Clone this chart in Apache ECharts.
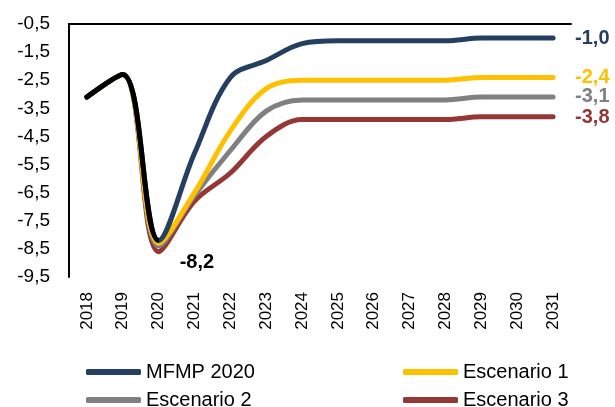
<!DOCTYPE html>
<html>
<head>
<meta charset="utf-8">
<script src="https://cdn.jsdelivr.net/npm/echarts@6/dist/echarts.min.js"></script>
<style>
  html, body { margin: 0; padding: 0; background: #fff; }
  #chart { width: 615px; height: 407px; }
</style>
</head>
<body>
<div id="chart"></div>
<script>
// Balance fiscal (% del PIB), 2018-2031
const years = ['2018', '2019', '2020', '2021', '2022', '2023', '2024',
               '2025', '2026', '2027', '2028', '2029', '2030', '2031'];

const historico = [-3.1, -2.3, -8.2, null, null, null, null, null, null, null, null, null, null, null];
const mfmp2020  = [-3.1, -2.3, -8.2, -5.1, -2.4, -1.8, -1.2, -1.1, -1.1, -1.1, -1.1, -1.0, -1.0, -1.0];
const escenario1 = [-3.1, -2.3, -8.3, -6.5, -4.3, -2.8, -2.5, -2.5, -2.5, -2.5, -2.5, -2.4, -2.4, -2.4];
const escenario2 = [-3.1, -2.3, -8.4, -6.6, -5.0, -3.6, -3.2, -3.2, -3.2, -3.2, -3.2, -3.1, -3.1, -3.1];
const escenario3 = [-3.1, -2.3, -8.6, -6.8, -5.8, -4.5, -3.9, -3.9, -3.9, -3.9, -3.9, -3.8, -3.8, -3.8];

const yTicks = [-9.5, -8.5, -7.5, -6.5, -5.5, -4.5, -3.5, -2.5, -1.5, -0.5];

const FONT = "'Liberation Sans', Arial, sans-serif";
const SMOOTH = 0.35;
const fmt = v => v.toFixed(1).replace('.', ',');

// last observed year of the historical series
const lastHist = historico.reduce((acc, v, i) => (v !== null ? i : acc), -1);

function lineSeries(name, data, color, labelOpts) {
  return {
    name: name,
    type: 'line',
    data: data,
    smooth: SMOOTH,
    symbol: 'none',
    lineStyle: { color: color, width: 5, cap: 'round', join: 'round' },
    itemStyle: { color: color },
    emphasis: { disabled: true },
    endLabel: Object.assign({
      show: true,
      formatter: p => fmt(p.value),
      color: color,
      fontFamily: FONT,
      fontSize: 20,
      fontWeight: 'bold',
      distance: 22
    }, labelOpts || {})
  };
}

// one legend entry per block, laid out as a 2x2 grid
function legendItem(name, left, top) {
  return {
    left: left,
    top: top,
    itemWidth: 55,
    itemHeight: 6,
    icon: 'roundRect',
    data: [name],
    padding: 0,
    textStyle: { color: '#000', fontSize: 20, fontFamily: FONT },
    selectedMode: false
  };
}

// The historical stretch shares its path with the projections; it is traced along the
// MFMP curve and painted black only up to the last observed year.
const historicoPath = mfmp2020.map((v, i) => {
  const val = historico[i] !== null ? historico[i] : v;
  if (i === lastHist) {
    return {
      value: val,
      label: {
        show: true,
        position: 'right',
        distance: 6,
        offset: [15, 22],
        formatter: p => fmt(p.value),
        color: '#000',
        fontFamily: FONT,
        fontSize: 20,
        fontWeight: 'bold'
      }
    };
  }
  return val;
});

const chart = echarts.init(document.getElementById('chart'), null, { renderer: 'canvas' });

chart.setOption({
  animation: false,
  backgroundColor: '#fff',
  textStyle: { fontFamily: FONT },
  grid: { left: 69, right: 44, top: 24, bottom: 130, containLabel: false },
  xAxis: [
    {
      type: 'category',
      data: years,
      position: 'bottom',
      boundaryGap: true,
      axisLine: { show: false },
      axisTick: { show: false },
      axisLabel: { rotate: 90, margin: 15, color: '#000', fontSize: 17, fontFamily: FONT },
      splitLine: { show: false }
    },
    {
      type: 'category',
      data: years,
      position: 'top',
      boundaryGap: true,
      axisLine: { show: true, lineStyle: { color: '#000', width: 2 } },
      axisTick: { show: false },
      axisLabel: { show: false },
      splitLine: { show: false }
    }
  ],
  yAxis: {
    type: 'value',
    min: yTicks[0],
    max: yTicks[yTicks.length - 1],
    interval: 0.5,
    axisLine: { show: true, lineStyle: { color: '#000', width: 2 } },
    axisTick: { show: false },
    splitLine: { show: false },
    axisLabel: {
      color: '#000',
      fontSize: 19,
      fontFamily: FONT,
      margin: 19,
      formatter: v => (yTicks.some(t => Math.abs(t - v) < 1e-6) ? fmt(v) : '')
    }
  },
  legend: [
    legendItem('MFMP 2020', 86, 362),
    legendItem('Escenario 1', 403, 362),
    legendItem('Escenario 2', 86, 390),
    legendItem('Escenario 3', 403, 390)
  ],
  series: [
    lineSeries('Escenario 3', escenario3, '#953735', { offset: [0, 1] }),
    lineSeries('Escenario 2', escenario2, '#808080', { offset: [0, -1] }),
    lineSeries('Escenario 1', escenario1, '#FFC000'),
    lineSeries('MFMP 2020', mfmp2020, '#243F62'),
    {
      id: 'historico',
      name: 'Histórico',
      type: 'line',
      data: historicoPath,
      smooth: SMOOTH,
      symbol: 'circle',
      symbolSize: 0,
      showSymbol: true,
      lineStyle: { width: 5, color: '#000', cap: 'round', join: 'round' },
      itemStyle: { color: '#000' },
      emphasis: { disabled: true },
      z: 3
    }
  ]
});

// Black up to the last observed year, invisible beyond it.
const cutX = chart.convertToPixel({ xAxisIndex: 0 }, years[lastHist]);
const W = chart.getWidth();
const stop = cutX / W;
chart.setOption({
  series: [{
    id: 'historico',
    lineStyle: {
      color: new echarts.graphic.LinearGradient(0, 0, W, 0, [
        { offset: 0, color: '#000' },
        { offset: stop, color: '#000' },
        { offset: stop, color: 'rgba(0,0,0,0)' },
        { offset: 1, color: 'rgba(0,0,0,0)' }
      ], true)
    }
  }]
});
</script>
</body>
</html>
